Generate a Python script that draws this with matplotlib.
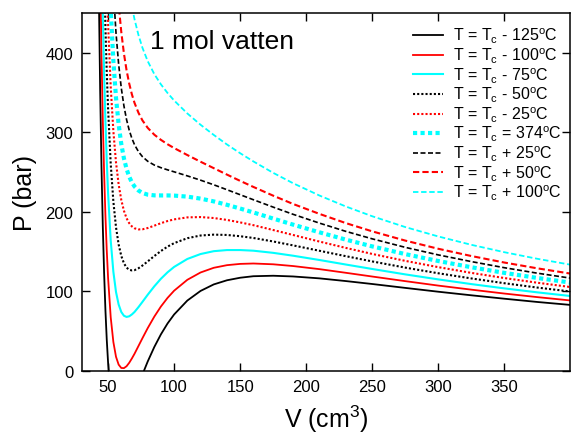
import numpy as np
import matplotlib
matplotlib.use('Agg')
import matplotlib.pyplot as plt

plt.rcParams['font.family'] = 'Liberation Sans'
plt.rcParams['mathtext.fontset'] = 'custom'
plt.rcParams['mathtext.rm'] = 'Liberation Sans'
plt.rcParams['mathtext.it'] = 'Liberation Sans:italic'

# molar volume (cm3), shared by all isotherms
V = [42, 43, 44, 45, 46, 47, 48, 49, 50, 52, 54, 56, 58, 60, 62, 64, 66, 68, 70,
     73, 76, 80, 85, 90, 95, 100, 110, 120, 130, 140, 150, 160, 175, 190, 210,
     230, 250, 275, 300, 325, 350, 375, 400]

# pressure (bar)
P_m125 = [633.0, 475.7, 353.4, 257.8, 182.4, 123.0, 76.2, 39.3, 10.5, -29.4, -52.2,
          -63.8, -67.8, -66.9, -62.6, -56.3, -48.5, -40.0, -31.1, -17.7, -4.7, 11.7,
          30.0, 45.9, 59.5, 70.9, 88.4, 100.5, 108.7, 113.9, 117.1, 119.0, 119.6,
          118.7, 116.3, 112.9, 109.2, 104.3, 99.5, 95.0, 90.7, 86.6, 82.9]
P_m100 = [813.6, 641.9, 507.3, 401.0, 316.4, 248.9, 194.9, 151.6, 117.0, 67.3, 36.3,
          17.7, 7.8, 3.6, 3.4, 5.8, 10.1, 15.5, 21.4, 31.2, 41.0, 53.7, 68.2, 80.9,
          91.7, 100.8, 114.5, 123.7, 129.6, 132.9, 134.5, 135.0, 134.0, 131.8, 127.9,
          123.3, 118.6, 112.8, 107.2, 102.1, 97.2, 92.7, 88.5]
P_m75 = [994.2, 808.0, 661.2, 544.2, 450.5, 374.8, 313.6, 263.9, 223.6, 163.9, 124.7,
         99.2, 83.4, 74.0, 69.3, 67.8, 68.6, 70.9, 74.0, 80.1, 86.7, 95.7, 106.3,
         115.8, 123.9, 130.7, 140.7, 146.9, 150.5, 151.9, 151.9, 151.1, 148.4, 144.8,
         139.4, 133.7, 128.1, 121.3, 115.0, 109.1, 103.7, 98.7, 94.1]
P_m50 = [1174.7, 974.2, 815.0, 687.5, 584.5, 500.7, 432.3, 376.2, 330.1, 260.5, 213.1,
         180.6, 158.9, 144.5, 135.3, 129.8, 127.1, 126.3, 126.6, 129.0, 132.4, 137.6,
         144.4, 150.7, 156.2, 160.6, 166.8, 170.2, 171.3, 170.9, 169.3, 167.1, 162.7,
         157.8, 151.0, 144.2, 137.6, 129.8, 122.7, 116.2, 110.2, 104.7, 99.8]
P_m25 = [1355.3, 1140.4, 968.9, 830.7, 718.5, 626.6, 551.0, 488.5, 436.7, 357.2, 301.5,
         262.1, 234.5, 214.9, 201.3, 191.9, 185.7, 181.7, 179.3, 177.9, 178.0, 179.6,
         182.6, 185.7, 188.4, 190.5, 193.0, 193.4, 192.2, 189.8, 186.7, 183.2, 177.1,
         170.9, 162.6, 154.6, 147.0, 138.3, 130.4, 123.2, 116.7, 110.8, 105.4]
P_c = [1535.9, 1306.5, 1122.7, 974.0, 852.5, 752.5, 669.7, 600.8, 543.2, 453.8, 389.9,
       343.6, 310.0, 285.3, 267.2, 253.9, 244.2, 237.1, 231.9, 226.8, 223.7, 221.6,
       220.7, 220.6, 220.6, 220.4, 219.1, 216.6, 213.1, 208.8, 204.1, 199.2, 191.5,
       183.9, 174.2, 165.0, 156.5, 146.8, 138.1, 130.3, 123.2, 116.8, 111.0]
P_p25 = [1716.5, 1472.7, 1276.6, 1117.2, 986.5, 878.4, 788.4, 713.1, 649.7, 550.4, 478.3,
         425.1, 385.6, 355.7, 333.2, 315.9, 302.7, 292.5, 284.5, 275.7, 269.4, 263.6,
         258.8, 255.5, 252.8, 250.3, 245.2, 239.8, 234.0, 227.8, 221.5, 215.2, 205.9,
         196.9, 185.8, 175.4, 166.0, 155.3, 145.8, 137.4, 129.7, 122.8, 116.6]
P_p50 = [1897.1, 1638.8, 1430.4, 1260.5, 1120.5, 1004.3, 907.1, 825.4, 756.3, 647.1, 566.7,
         506.6, 461.1, 426.2, 399.1, 378.0, 361.3, 347.9, 337.1, 324.6, 315.0, 305.6,
         297.0, 290.5, 285.0, 280.2, 271.4, 263.0, 254.9, 246.8, 238.9, 231.3, 220.3,
         209.9, 197.4, 185.8, 175.4, 163.8, 153.5, 144.4, 136.2, 128.9, 122.3]
P_p100 = [2258.2, 1971.1, 1738.1, 1547.0, 1388.5, 1256.1, 1144.5, 1050.0, 969.4, 840.3, 743.5,
          669.5, 612.2, 567.0, 531.0, 502.0, 478.3, 458.7, 442.3, 422.4, 406.4, 389.5,
          373.2, 360.3, 349.5, 340.0, 323.7, 309.5, 296.7, 284.7, 273.7, 263.4, 249.0,
          236.0, 220.5, 206.7, 194.4, 180.8, 169.0, 158.5, 149.2, 140.9, 133.5]

labels = [r'T = T$_\mathrm{c}$ - 125$^\mathrm{o}$C',
          r'T = T$_\mathrm{c}$ - 100$^\mathrm{o}$C',
          r'T = T$_\mathrm{c}$ - 75$^\mathrm{o}$C',
          r'T = T$_\mathrm{c}$ - 50$^\mathrm{o}$C',
          r'T = T$_\mathrm{c}$ - 25$^\mathrm{o}$C',
          r'T = T$_\mathrm{c}$ = 374$^\mathrm{o}$C',
          r'T = T$_\mathrm{c}$ + 25$^\mathrm{o}$C',
          r'T = T$_\mathrm{c}$ + 50$^\mathrm{o}$C',
          r'T = T$_\mathrm{c}$ + 100$^\mathrm{o}$C']

curves = [P_m125, P_m100, P_m75, P_m50, P_m25, P_c, P_p25, P_p50, P_p100]
colors = ['black', 'red', 'cyan'] * 3
styles = ['-', '-', '-', ':', ':', ':', '--', '--', '--']
widths = [1.3, 1.3, 1.5, 1.5, 1.5, 3.0, 1.2, 1.5, 1.3]
dashes = [None, None, None, (1, 1), (1, 1), (1, 0.8), (3, 1.5), (3, 1.5), (3, 1.5)]

fig = plt.figure(figsize=(5.71, 4.39), dpi=100)
ax = fig.add_axes([0.143, 0.153, 0.856, 0.815])

for P, c, ls, lw, dsh, lab in zip(curves, colors, styles, widths, dashes, labels):
    line, = ax.plot(V, P, color=c, linestyle=ls, lw=lw, label=lab)
    if dsh is not None:
        line.set_dashes(dsh)

ax.set_xlim(30, 400)
ax.set_ylim(0, 450)
ax.set_xticks([50, 100, 150, 200, 250, 300, 350])
ax.set_yticks([0, 100, 200, 300, 400])
ax.tick_params(direction='in', length=6, width=1, top=True, right=True, labelsize=12, pad=6)
for s in ax.spines.values():
    s.set_linewidth(1.1)

ax.set_xlabel(r'V (cm$^3$)', fontsize=18, labelpad=6)
ax.set_ylabel('P (bar)', fontsize=18, labelpad=6)
ax.text(0.139, 0.955, '1 mol vatten', transform=ax.transAxes, fontsize=19, va='top')

ax.legend(loc='upper right', frameon=False, fontsize=11.5, handlelength=1.9,
          labelspacing=0.02, borderaxespad=0.3, handletextpad=0.6,
          bbox_to_anchor=(1.004, 0.995))

fig.savefig('out.png', dpi=100)
